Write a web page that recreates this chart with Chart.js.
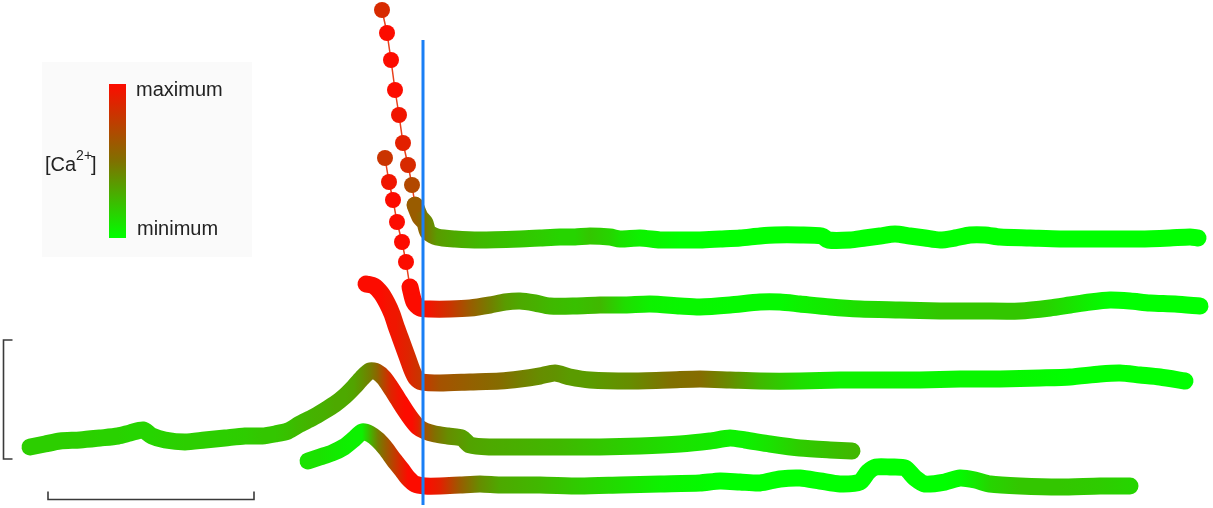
<!DOCTYPE html>
<html>
<head>
<meta charset="utf-8">
<script src="https://cdn.jsdelivr.net/npm/chart.js@4/dist/chart.umd.min.js"></script>
<style>
  html, body { margin: 0; padding: 0; background: #fff; }
  .wrap { width: 1213px; height: 508px; position: relative; }
</style>
</head>
<body>
<div class="wrap"><canvas id="chart"></canvas></div>
<script>
// time (x), signal offset (y, plotted downward) and relative [Ca2+] (0 = minimum, 1 = maximum)

// row 1 - discrete points falling from the top, then flat trace
const row1DotsTime = [382, 387, 391, 395, 399, 403, 408, 412, 415]
const row1DotsSignal = [10, 33, 60, 90, 115, 143, 165, 185, 205]
const row1DotsCa = [0.85, 1, 1, 1, 0.95, 0.9, 0.85, 0.7, 0.6]

const row1Time = [415, 420, 425, 428, 437, 455, 480, 520, 540, 560, 575, 590, 610, 620, 640, 660, 680, 700, 720, 740, 760, 775, 800, 822, 828, 850, 865, 880, 895, 910, 925, 940, 955, 970, 985, 1000, 1030, 1060, 1100, 1140, 1170, 1190, 1198]
const row1Signal = [205, 217, 223, 232, 237, 239, 240, 239, 238, 237, 237, 236, 237, 239, 238, 240, 240, 240, 239, 238, 236, 235, 235, 236, 240, 240, 238, 236, 234, 236, 238, 240, 238, 235, 235, 237, 238, 239, 239, 239, 238, 237, 238]
const row1Ca = [0.6, 0.55, 0.5, 0.45, 0.35, 0.3, 0.25, 0.2, 0.18, 0.15, 0.15, 0.2, 0.15, 0.1, 0.05, 0.03, 0, 0, 0, 0, 0, 0, 0, 0, 0, 0, 0, 0, 0, 0, 0, 0, 0, 0, 0, 0, 0, 0, 0, 0, 0, 0, 0]

// row 2 - second chain of points, then trace
const row2DotsTime = [385, 389, 393, 397, 402, 406, 410]
const row2DotsSignal = [158, 182, 200, 222, 242, 262, 287]
const row2DotsCa = [0.8, 0.95, 1, 1, 1, 1, 1]

const row2Time = [410, 414, 420, 430, 450, 470, 490, 505, 520, 535, 550, 575, 600, 625, 650, 680, 700, 730, 760, 780, 800, 830, 860, 900, 940, 980, 1020, 1050, 1070, 1090, 1110, 1130, 1150, 1175, 1200]
const row2Signal = [287, 302, 308, 309, 309, 308, 305, 302, 301, 303, 306, 306, 305, 305, 304, 306, 307, 305, 302, 302, 304, 307, 309, 310, 311, 311, 311, 308, 305, 302, 300, 301, 303, 304, 306]
const row2Ca = [1, 1, 1, 0.95, 0.8, 0.6, 0.45, 0.35, 0.3, 0.28, 0.25, 0.22, 0.25, 0.12, 0.05, 0.03, 0.03, 0.02, 0.02, 0.02, 0.05, 0.08, 0.12, 0.15, 0.2, 0.2, 0.2, 0.15, 0.1, 0.05, 0, 0, 0, 0, 0]

// row 3
const row3Time = [366, 374, 381, 387, 392, 396, 400, 404, 408, 412, 416, 422, 440, 470, 500, 520, 540, 555, 570, 590, 630, 670, 700, 730, 760, 800, 840, 880, 920, 960, 1000, 1040, 1070, 1100, 1120, 1140, 1160, 1185]
const row3Signal = [284, 286, 293, 303, 314, 326, 337, 348, 359, 370, 378, 382, 383, 382, 381, 379, 376, 373, 377, 380, 381, 380, 379, 380, 381, 381, 380, 380, 380, 379, 379, 378, 377, 374, 373, 375, 377, 381]
const row3Ca = [1, 1, 1, 0.97, 0.95, 0.95, 0.92, 0.9, 0.88, 0.85, 0.82, 0.78, 0.65, 0.58, 0.52, 0.45, 0.4, 0.38, 0.35, 0.35, 0.4, 0.5, 0.52, 0.4, 0.25, 0.12, 0.05, 0.05, 0.03, 0.03, 0.03, 0.02, 0, 0, 0, 0, 0, 0]

// row 4 - long baseline from the left
const row4Time = [30, 45, 60, 80, 100, 118, 130, 143, 152, 165, 185, 205, 225, 245, 262, 275, 288, 300, 312, 324, 335, 345, 354, 362, 370, 377, 384, 391, 398, 405, 412, 418, 425, 435, 448, 462, 470, 490, 520, 560, 600, 640, 680, 710, 730, 745, 770, 800, 830, 852]
const row4Signal = [447, 444, 441, 440, 438, 436, 433, 430, 436, 440, 442, 440, 438, 436, 436, 434, 431, 424, 418, 411, 404, 396, 387, 378, 371, 372, 378, 388, 399, 410, 420, 427, 431, 434, 436, 438, 445, 447, 447, 447, 447, 446, 444, 441, 438, 440, 444, 448, 450, 451]
const row4Ca = [0.17, 0.17, 0.17, 0.17, 0.16, 0.16, 0.15, 0.15, 0.15, 0.16, 0.17, 0.17, 0.17, 0.18, 0.2, 0.2, 0.22, 0.25, 0.27, 0.28, 0.3, 0.3, 0.32, 0.38, 0.45, 0.55, 0.72, 0.88, 0.95, 1, 1, 0.9, 0.65, 0.5, 0.4, 0.35, 0.32, 0.3, 0.28, 0.25, 0.2, 0.15, 0.1, 0.08, 0.05, 0.05, 0.1, 0.18, 0.22, 0.25]

// row 5 - short baseline, bottom trace
const row5Time = [308, 320, 332, 344, 354, 362, 370, 378, 386, 394, 402, 408, 415, 425, 440, 460, 480, 500, 540, 580, 620, 660, 700, 720, 740, 760, 780, 800, 820, 840, 860, 868, 876, 890, 905, 915, 925, 945, 960, 975, 990, 1020, 1060, 1100, 1130]
const row5Signal = [461, 457, 453, 447, 439, 432, 434, 440, 449, 460, 470, 478, 484, 486, 486, 485, 484, 485, 485, 486, 485, 484, 483, 481, 482, 483, 479, 478, 481, 484, 482, 472, 467, 467, 468, 478, 484, 482, 478, 480, 484, 486, 487, 486, 486]
const row5Ca = [0.1, 0.1, 0.08, 0.06, 0.05, 0.05, 0.25, 0.45, 0.6, 0.75, 0.9, 1, 1, 1, 0.9, 0.6, 0.4, 0.3, 0.25, 0.18, 0.12, 0.05, 0.02, 0, 0, 0, 0, 0, 0, 0, 0, 0, 0, 0, 0, 0, 0, 0, 0.02, 0.08, 0.15, 0.2, 0.2, 0.18, 0.15]

// stimulus marker
const stimulusTime = 423
const stimulusSignal = [40, 505]

// scale bars (in chart units)
const scaleBarTime = [48, 254]
const scaleBarSignal = [340, 459]

const caStops = [
    [0, [0, 255, 0]],
    [0.5, [128, 112, 0]],
    [1, [252, 12, 0]]
]

const caColor = v => {
    for (let i = 1; i < caStops.length; i++) {
        const [p1, c1] = caStops[i]
        const [p0, c0] = caStops[i - 1]
        if (v <= p1) {
            const t = (v - p0) / (p1 - p0)
            const c = c0.map((a, k) => Math.round(a + (c1[k] - a) * t))
            return `rgb(${c[0]}, ${c[1]}, ${c[2]})`
        }
    }
    const c = caStops[caStops.length - 1][1]
    return `rgb(${c[0]}, ${c[1]}, ${c[2]})`
}

const toPoints = (xs, ys) => xs.map((x, i) => ({ x, y: ys[i] }))

const traceGradient = (xs, cas) => context => {
    const chart = context.chart
    const { ctx, chartArea, scales } = chart
    if (!chartArea || !scales.x) return caColor(cas[0])
    const x0 = scales.x.getPixelForValue(xs[0])
    const x1 = scales.x.getPixelForValue(xs[xs.length - 1])
    const g = ctx.createLinearGradient(x0, 0, x1, 0)
    xs.forEach((v, i) => {
        const p = (scales.x.getPixelForValue(v) - x0) / (x1 - x0)
        g.addColorStop(Math.min(1, Math.max(0, p)), caColor(cas[i]))
    })
    return g
}

const thickTrace = (xs, ys, cas) => ({
    data: toPoints(xs, ys),
    borderColor: traceGradient(xs, cas),
    borderWidth: 17,
    borderCapStyle: 'round',
    borderJoinStyle: 'round',
    pointRadius: 0,
    tension: 0.25,
    order: 3
})

const dotChain = (xs, ys, cas) => ({
    data: toPoints(xs, ys),
    borderColor: '#e8401c',
    borderWidth: 1.5,
    pointRadius: 8,
    pointBackgroundColor: cas.map(caColor),
    pointBorderColor: cas.map(caColor),
    pointBorderWidth: 0,
    tension: 0,
    order: 2
})

const legendPlugin = {
    id: 'caLegend',
    afterDatasetsDraw(chart) {
        const { ctx, scales } = chart
        ctx.save()

        // faint panel
        ctx.fillStyle = '#fafafa'
        ctx.fillRect(42, 62, 210, 195)

        // colour bar
        const bar = ctx.createLinearGradient(0, 84, 0, 238)
        for (let i = 0; i <= 10; i++) bar.addColorStop(i / 10, caColor(1 - i / 10))
        ctx.fillStyle = bar
        ctx.fillRect(109, 84, 17, 154)

        ctx.fillStyle = '#222'
        ctx.textBaseline = 'middle'
        ctx.font = '20px "Liberation Sans", Arial, sans-serif'
        ctx.fillText('maximum', 136, 90)
        ctx.fillText('minimum', 137, 229)

        // [Ca2+]
        let tx = 45
        const ty = 165
        ctx.fillText('[Ca', tx, ty)
        tx += ctx.measureText('[Ca').width
        ctx.font = '14px "Liberation Sans", Arial, sans-serif'
        ctx.fillText('2+', tx, ty - 9)
        tx += ctx.measureText('2+').width - 1
        ctx.font = '20px "Liberation Sans", Arial, sans-serif'
        ctx.fillText(']', tx, ty)

        // scale bars
        const x = scales.x, y = scales.y
        ctx.strokeStyle = '#3a3a3a'
        ctx.lineWidth = 1.6
        const vx = 3.5
        const vTop = y.getPixelForValue(scaleBarSignal[0])
        const vBot = y.getPixelForValue(scaleBarSignal[1])
        ctx.beginPath()
        ctx.moveTo(vx + 9, vTop)
        ctx.lineTo(vx, vTop)
        ctx.lineTo(vx, vBot)
        ctx.lineTo(vx + 9, vBot)
        ctx.stroke()

        const hy = 499.5
        const hL = x.getPixelForValue(scaleBarTime[0])
        const hR = x.getPixelForValue(scaleBarTime[1])
        ctx.beginPath()
        ctx.moveTo(hL, hy - 8)
        ctx.lineTo(hL, hy)
        ctx.lineTo(hR, hy)
        ctx.lineTo(hR, hy - 8)
        ctx.stroke()

        ctx.restore()
    }
}

new Chart(document.getElementById('chart'), {
    type: 'line',
    data: {
        datasets: [
            {
                data: toPoints([stimulusTime, stimulusTime], stimulusSignal),
                borderColor: '#1a7ff5',
                borderWidth: 3,
                pointRadius: 0,
                order: 0
            },
            dotChain(row1DotsTime, row1DotsSignal, row1DotsCa),
            dotChain(row2DotsTime, row2DotsSignal, row2DotsCa),
            thickTrace(row1Time, row1Signal, row1Ca),
            thickTrace(row2Time, row2Signal, row2Ca),
            thickTrace(row3Time, row3Signal, row3Ca),
            thickTrace(row4Time, row4Signal, row4Ca),
            thickTrace(row5Time, row5Signal, row5Ca)
        ]
    },
    options: {
        responsive: true,
        maintainAspectRatio: false,
        animation: false,
        layout: { padding: 0, autoPadding: false },
        scales: {
            x: { type: 'linear', min: 0, max: 1213, display: false },
            y: { type: 'linear', min: 0, max: 508, reverse: true, display: false }
        },
        plugins: {
            legend: { display: false },
            tooltip: { enabled: false }
        }
    },
    plugins: [legendPlugin]
})
</script>
</body>
</html>
